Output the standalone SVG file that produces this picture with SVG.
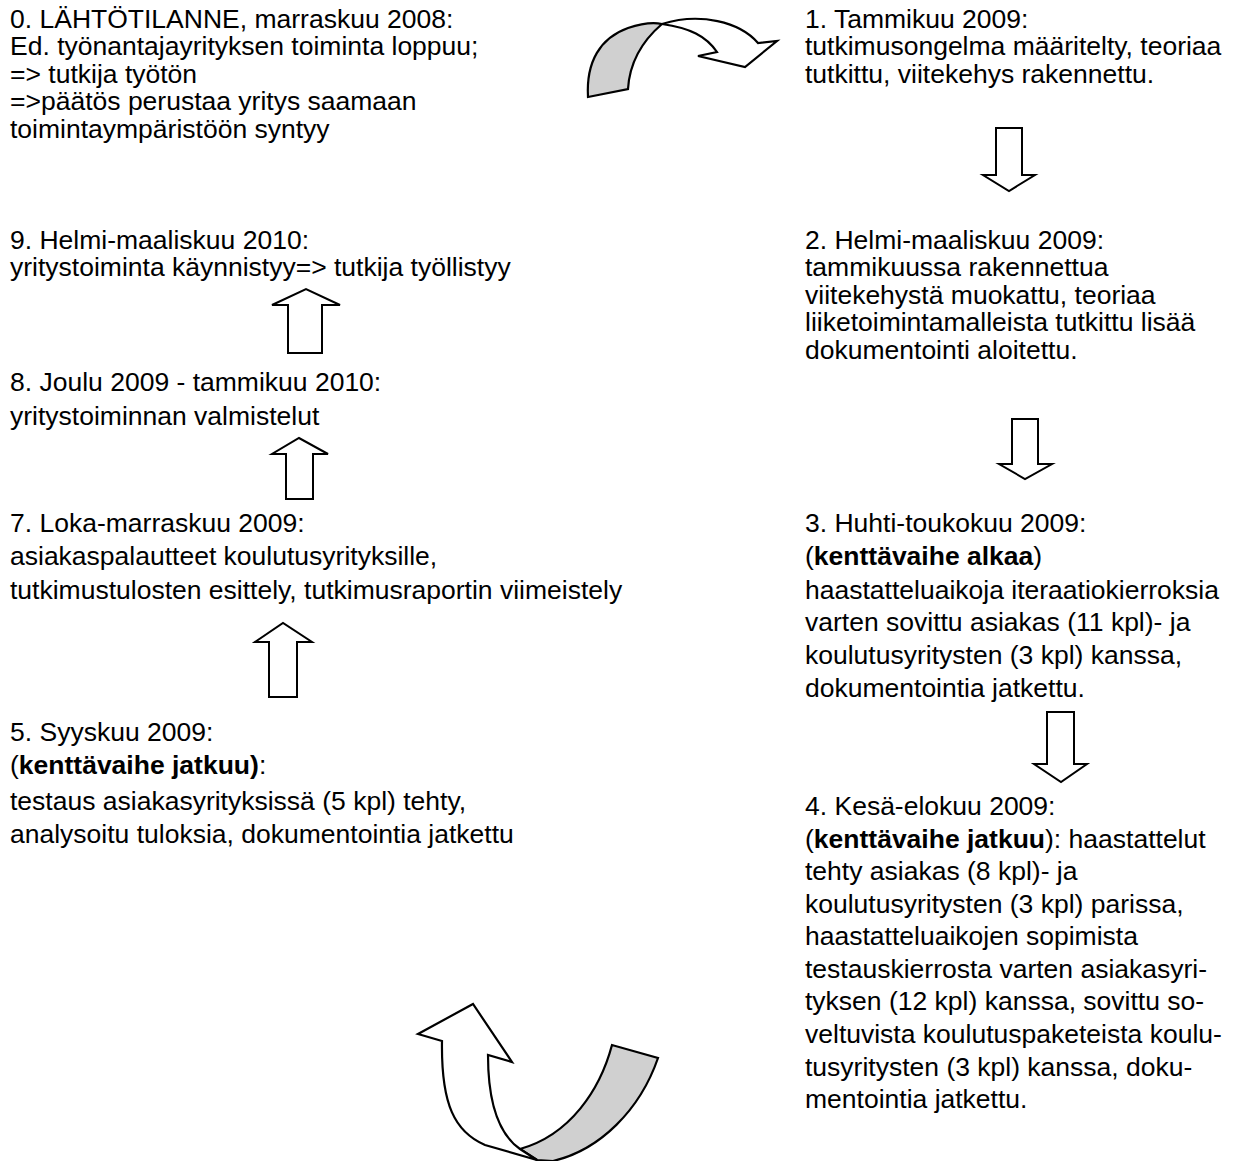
<svg xmlns="http://www.w3.org/2000/svg" width="1243" height="1161" viewBox="0 0 1243 1161">
  <style>
    text { font-family: "Liberation Sans", Arial, sans-serif; font-size: 26.5px; fill: #000; }
    .b { font-weight: bold; }
    .blk { fill: #fff; stroke: #000; stroke-width: 2; stroke-linejoin: miter; }
    .crv { stroke: #000; stroke-width: 2.2; stroke-linejoin: miter; }
    .front { fill: #fff; }
    .back { fill: #d0d0d0; }
  </style>
  <rect width="1243" height="1161" fill="#fff"/>

  <!-- phase texts, left column -->
  <g id="phase0">
    <text x="10" y="28">0. LÄHTÖTILANNE, marraskuu 2008:</text>
    <text x="10" y="55">Ed. työnantajayrityksen toiminta loppuu;</text>
    <text x="10" y="83">=&gt; tutkija työtön</text>
    <text x="10" y="110">=&gt;päätös perustaa yritys saamaan</text>
    <text x="10" y="138">toimintaympäristöön syntyy</text>
  </g>
  <g id="phase9">
    <text x="10" y="249">9. Helmi-maaliskuu 2010:</text>
    <text x="10" y="276">yritystoiminta käynnistyy=&gt; tutkija työllistyy</text>
  </g>
  <g id="phase8">
    <text x="10" y="391">8. Joulu 2009 - tammikuu 2010:</text>
    <text x="10" y="425">yritystoiminnan valmistelut</text>
  </g>
  <g id="phase7">
    <text x="10" y="532">7. Loka-marraskuu 2009:</text>
    <text x="10" y="565">asiakaspalautteet koulutusyrityksille,</text>
    <text x="10" y="599">tutkimustulosten esittely, tutkimusraportin viimeistely</text>
  </g>
  <g id="phase5">
    <text x="10" y="741">5. Syyskuu 2009:</text>
    <text x="10" y="774">(<tspan class="b">kenttävaihe jatkuu)</tspan>:</text>
    <text x="10" y="810">testaus asiakasyrityksissä (5 kpl) tehty,</text>
    <text x="10" y="843">analysoitu tuloksia, dokumentointia jatkettu</text>
  </g>

  <!-- phase texts, right column -->
  <g id="phase1">
    <text x="805" y="28">1. Tammikuu 2009:</text>
    <text x="805" y="55">tutkimusongelma määritelty, teoriaa</text>
    <text x="805" y="83">tutkittu, viitekehys rakennettu.</text>
  </g>
  <g id="phase2">
    <text x="805" y="249">2. Helmi-maaliskuu 2009:</text>
    <text x="805" y="276">tammikuussa rakennettua</text>
    <text x="805" y="304">viitekehystä muokattu, teoriaa</text>
    <text x="805" y="331">liiketoimintamalleista tutkittu lisää</text>
    <text x="805" y="359">dokumentointi aloitettu.</text>
  </g>
  <g id="phase3">
    <text x="805" y="532">3. Huhti-toukokuu 2009:</text>
    <text x="805" y="565">(<tspan class="b">kenttävaihe alkaa</tspan>)</text>
    <text x="805" y="599">haastatteluaikoja iteraatiokierroksia</text>
    <text x="805" y="631">varten sovittu asiakas (11 kpl)- ja</text>
    <text x="805" y="664">koulutusyritysten (3 kpl) kanssa,</text>
    <text x="805" y="697">dokumentointia jatkettu.</text>
  </g>
  <g id="phase4">
    <text x="805" y="815">4. Kesä-elokuu 2009:</text>
    <text x="805" y="848">(<tspan class="b">kenttävaihe jatkuu</tspan>): haastattelut</text>
    <text x="805" y="880">tehty asiakas (8 kpl)- ja</text>
    <text x="805" y="913">koulutusyritysten (3 kpl) parissa,</text>
    <text x="805" y="945">haastatteluaikojen sopimista</text>
    <text x="805" y="978">testauskierrosta varten asiakasyri-</text>
    <text x="805" y="1010">tyksen (12 kpl) kanssa, sovittu so-</text>
    <text x="805" y="1043">veltuvista koulutuspaketeista koulu-</text>
    <text x="805" y="1076">tusyritysten (3 kpl) kanssa, doku-</text>
    <text x="805" y="1108">mentointia jatkettu.</text>
  </g>

  <!-- connectors between phases -->
  <g id="connectors">
    <!-- curved arrow 0 -> 1 -->
    <g id="curve-top">
      <path class="crv back" d="M588,97 C586,62 600,38 628,28 C640,24 652,22 662,24 C648,36 630,56 628,89 Z"/>
      <path class="crv front" d="M662,24 C700,12 740,22 758,43 L777,41 L745,67 L698,56 L717,52 C706,36 690,28 662,24 Z"/>
    </g>
    <!-- curved arrow 4 -> 5 -->
    <g id="curve-bottom">
      <path class="crv back" d="M520,1149 C570,1135 600,1090 612,1045 L658,1058 C640,1110 600,1150 553,1161 L537,1160 Z"/>
      <path class="crv front" d="M537,1160 L485,1145 C455,1132 441,1105 442,1041 L418,1034 L473,1004 L512,1062 L488,1055 C488,1105 500,1135 520,1149 Z"/>
    </g>

    <!-- block arrows, right column (downwards) -->
    <polygon class="blk" points="996,128 1022,128 1022,175 1035,175 1009,191 983,175 996,175"/>
    <polygon class="blk" points="1012,419 1038,419 1038,464 1052,464 1025,479 999,464 1012,464"/>
    <polygon class="blk" points="1047,712 1074,712 1074,764 1087,764 1061,782 1034,764 1047,764"/>

    <!-- block arrows, left column (upwards) -->
    <polygon class="blk" points="288,353 322,353 322,305 340,305 306,289 272,305 288,305"/>
    <polygon class="blk" points="286,499 313,499 313,454 328,454 299,438 272,454 286,454"/>
    <polygon class="blk" points="269,697 297,697 297,642 312,642 283,623 255,642 269,642"/>
  </g>
</svg>
